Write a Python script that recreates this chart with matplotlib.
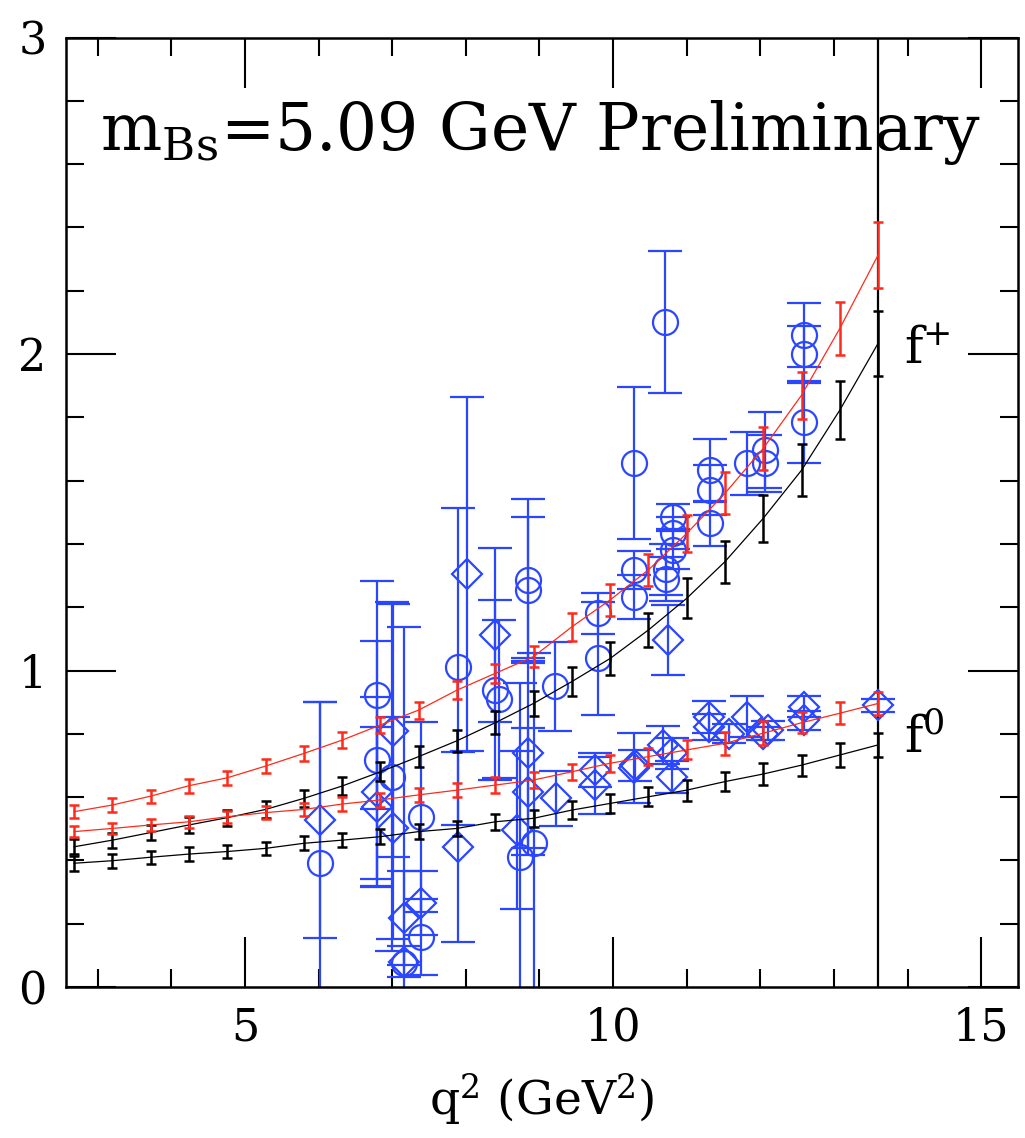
import matplotlib
matplotlib.use("Agg")
import matplotlib.pyplot as plt

plt.rcParams['font.family'] = ['DejaVu Serif']
plt.rcParams['mathtext.fontset'] = 'custom'
plt.rcParams['mathtext.rm'] = 'DejaVu Serif'
plt.rcParams['mathtext.it'] = 'DejaVu Serif'

# ---- fit curves (q^2 grid) ----
q2_fit = [2.68, 3.20, 3.72, 4.24, 4.76, 5.28, 5.80, 6.32, 6.84, 7.36, 7.88,
          8.40, 8.92, 9.44, 9.96, 10.48, 11.00, 11.52, 12.04, 12.56, 13.08, 13.60]

fplus_red = [0.554, 0.575, 0.603, 0.636, 0.661, 0.698, 0.738, 0.780, 0.828, 0.875, 0.938,
             0.991, 1.044, 1.138, 1.223, 1.318, 1.433, 1.560, 1.702, 1.870, 2.081, 2.313]
fplus_red_err = [0.021, 0.021, 0.021, 0.022, 0.022, 0.023, 0.024, 0.025, 0.026, 0.027, 0.028,
                 0.030, 0.033, 0.045, 0.050, 0.050, 0.058, 0.066, 0.068, 0.074, 0.084, 0.105]

fplus_black = [0.443, 0.464, 0.488, 0.512, 0.535, 0.561, 0.596, 0.635, 0.680, 0.728, 0.778,
               0.835, 0.896, 0.965, 1.038, 1.128, 1.228, 1.344, 1.481, 1.633, 1.823, 2.034]
fplus_black_err = [0.024, 0.024, 0.024, 0.025, 0.025, 0.026, 0.027, 0.028, 0.030, 0.032, 0.034,
                   0.037, 0.040, 0.045, 0.053, 0.055, 0.063, 0.066, 0.074, 0.082, 0.092, 0.103]

fzero_red = [0.491, 0.501, 0.512, 0.522, 0.538, 0.551, 0.561, 0.578, 0.591, 0.607, 0.622,
             0.638, 0.654, 0.680, 0.707, 0.728, 0.749, 0.770, 0.802, 0.835, 0.865, 0.896]
fzero_red_err = [0.018, 0.018, 0.018, 0.019, 0.019, 0.020, 0.020, 0.021, 0.022, 0.022, 0.023,
                 0.024, 0.025, 0.026, 0.027, 0.028, 0.030, 0.036, 0.037, 0.034, 0.034, 0.037]

fzero_black = [0.391, 0.399, 0.410, 0.420, 0.428, 0.438, 0.454, 0.464, 0.475, 0.491, 0.501,
               0.522, 0.533, 0.559, 0.580, 0.601, 0.622, 0.649, 0.673, 0.701, 0.733, 0.765]
fzero_black_err = [0.023, 0.022, 0.021, 0.021, 0.021, 0.021, 0.022, 0.022, 0.023, 0.024, 0.025,
                   0.026, 0.027, 0.028, 0.029, 0.030, 0.033, 0.030, 0.034, 0.033, 0.037, 0.037]

# ---- lattice data points (blue) ----
circ_q2 = [6.02, 6.79, 6.79, 7.00, 7.16, 7.39, 7.39, 7.89, 8.40, 8.45, 8.85, 8.85, 8.73, 8.92,
           9.21, 9.80, 9.80, 10.28, 10.28, 10.28, 10.71, 10.72, 10.72, 10.82, 10.82, 10.82,
           11.32, 11.32, 11.32, 11.82, 12.07, 12.07, 12.59, 12.59, 12.59]
circ_f = [0.391, 0.923, 0.717, 0.665, 0.076, 0.538, 0.159, 1.012, 0.938, 0.910, 1.286, 1.255, 0.412, 0.455,
          0.950, 1.181, 1.038, 1.657, 1.318, 1.233, 2.102, 1.320, 1.290, 1.486, 1.434, 1.381,
          1.633, 1.570, 1.465, 1.655, 1.697, 1.655, 2.060, 2.000, 1.786]
circ_err = [0.51, 0.36, 0.375, 0.55, 1.06, 0.30, 0.12, 0.50, 0.285, 0.25, 0.255, 0.23, 0.55, 0.60,
            0.14, 0.065, 0.18, 0.24, 0.06, 0.07, 0.225, 0.08, 0.07, 0.04, 0.05, 0.06,
            0.10, 0.08, 0.07, 0.10, 0.12, 0.09, 0.10, 0.09, 0.13]

diam_q2 = [6.02, 6.79, 6.79, 7.01, 7.01, 7.16, 7.16, 7.39, 7.89, 8.01, 8.40, 8.85, 8.85, 8.69,
           9.23, 9.76, 9.76, 10.28, 10.30, 10.68, 10.75, 10.80, 10.80, 11.30, 11.30, 11.57,
           11.82, 12.11, 12.04, 12.59, 12.59, 13.60]
diam_f = [0.528, 0.617, 0.570, 0.810, 0.502, 0.218, 0.080, 0.265, 0.443, 1.305, 1.112, 0.738, 0.617, 0.496,
          0.596, 0.686, 0.638, 0.691, 0.700, 0.765, 1.096, 0.738, 0.664, 0.854, 0.822, 0.800,
          0.854, 0.812, 0.800, 0.886, 0.843, 0.890]
diam_err = [0.373, 0.30, 0.25, 0.40, 0.35, 0.15, 0.05, 0.10, 0.30, 0.56, 0.274, 0.30, 0.20, 0.25,
            0.087, 0.053, 0.09, 0.11, 0.05, 0.06, 0.11, 0.05, 0.05, 0.05, 0.04, 0.03,
            0.065, 0.03, 0.02, 0.033, 0.03, 0.02]

q2_max = 13.60
title_text = r'm$_{\mathrm{Bs}}$=5.09 GeV Preliminary'

RED = '#ff2a1a'
BLUE = '#2a46ff'

fig = plt.figure(figsize=(10.25, 11.38), dpi=100)
ax = fig.add_axes([0.0644, 0.1327, 0.9288, 0.8343])

# blue data first
ax.errorbar(circ_q2, circ_f, yerr=circ_err, fmt='o', mfc='none', mec=BLUE, ecolor=BLUE,
            ms=18, mew=1.6, elinewidth=1.6, capsize=12.5, capthick=1.6, zorder=2)
ax.errorbar(diam_q2, diam_f, yerr=diam_err, fmt='D', mfc='none', mec=BLUE, ecolor=BLUE,
            ms=15, mew=1.6, elinewidth=1.6, capsize=12.5, capthick=1.6, zorder=2)

for y, e, c in [(fplus_red, fplus_red_err, RED), (fplus_black, fplus_black_err, 'black'),
                (fzero_red, fzero_red_err, RED), (fzero_black, fzero_black_err, 'black')]:
    ax.plot(q2_fit, y, color=c, lw=0.9, zorder=3)
    ax.errorbar(q2_fit, y, yerr=e, fmt='none', ecolor=c, elinewidth=1.8,
                capsize=3.8, capthick=1.8, zorder=3)

ax.axvline(q2_max, color='black', lw=1.6, zorder=1)

ax.set_xlim(2.57, 15.5)
ax.set_ylim(0, 3)
ax.set_xticks([5, 10, 15])
ax.set_xticks(range(3, 16), minor=True)
ax.set_yticks([0, 1, 2, 3])
ax.set_yticks([i * 0.2 for i in range(16)], minor=True)
ax.tick_params(which='both', direction='in', top=True, right=True, width=1.5,
               labelsize=32, colors='black')
ax.tick_params(which='major', length=36, pad=14)
ax.tick_params(which='minor', length=13)
for s in ax.spines.values():
    s.set_linewidth(1.8)

ax.set_xlabel(r'q$^{2}$ (GeV$^{2}$)', fontsize=34, labelpad=16)

ax.text(3.03, 2.645, title_text, fontsize=46.5, ha='left', va='baseline')
ax.text(13.95, 1.97, r'f$^{+}$', fontsize=36, ha='left', va='baseline')
ax.text(13.95, 0.74, r'f$^{0}$', fontsize=36, ha='left', va='baseline')

fig.savefig('out.png', dpi=100)
